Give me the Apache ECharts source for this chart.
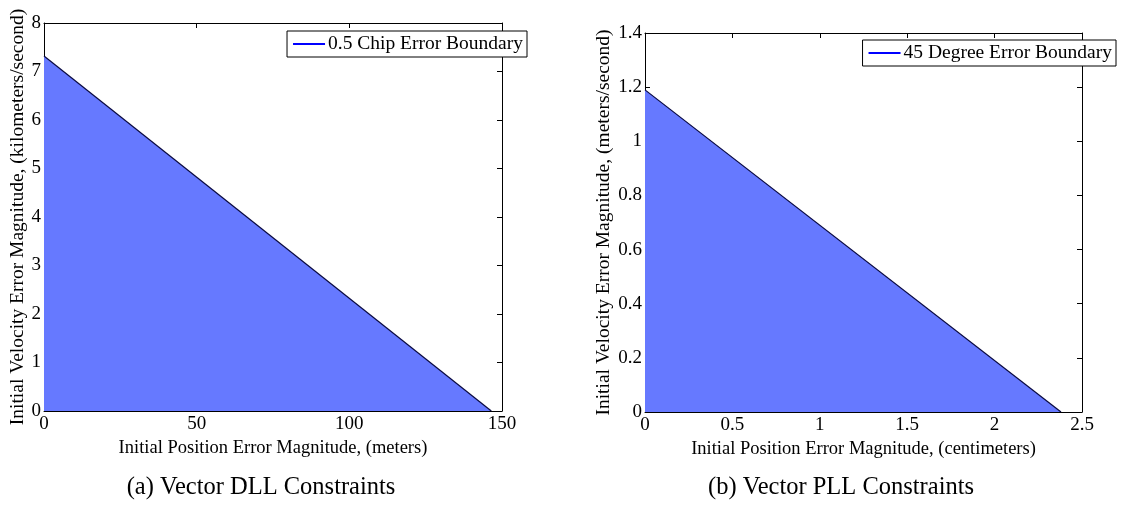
<!DOCTYPE html>
<html><head><meta charset="utf-8">
<script src="https://cdn.jsdelivr.net/npm/echarts@6/dist/echarts.min.js"></script>
<style>html,body{margin:0;padding:0;background:#fff}#c{width:1148px;height:505px}</style>
</head><body><div id="c"></div>
<script>
// Data
const dllPos = [0, 146.5];      // meters
const dllVel = [7.32, 0];       // km/s
const pllPos = [0, 2.38];       // centimeters
const pllVel = [1.19, 0];       // m/s
const dllLegend = '0.5 Chip Error Boundary';
const pllLegend = '45 Degree Error Boundary';
const captions = ['(a) Vector DLL Constraints', '(b) Vector PLL Constraints'];
const xTitles = ['Initial Position Error Magnitude, (meters)', 'Initial Position Error Magnitude, (centimeters)'];
const yTitles = ['Initial Velocity Error Magnitude, (kilometers/second)', 'Initial Velocity Error Magnitude, (meters/second)'];

const FONT = '"Liberation Serif", "DejaVu Serif", serif';
const fillColor = '#6679ff';
const edgeColor = '#0a0a40';

function toPairs(xs, ys){ return xs.map((x,i)=>[x, ys[i]]); }

const tickFont = 19;
function mainX(gi, max, interval, name, gap){
  return {type:'value', gridIndex:gi, min:0, max:max, interval:interval, position:'bottom',
    name:name, nameLocation:'middle', nameGap:gap,
    nameTextStyle:{fontFamily:FONT, fontSize:18.5, color:'#000'},
    axisLine:{show:true, onZero:false, lineStyle:{color:'#000', width:1}},
    axisTick:{show:true, inside:true, length:5, lineStyle:{color:'#000'}},
    axisLabel:{fontFamily:FONT, fontSize:tickFont, color:'#000', margin:4, showMaxLabel:true, showMinLabel:true},
    splitLine:{show:false}};
}
function mirrorX(gi, max, interval){
  return {type:'value', gridIndex:gi, min:0, max:max, interval:interval, position:'top',
    axisLine:{show:true, onZero:false, lineStyle:{color:'#000', width:1}},
    axisTick:{show:true, inside:true, length:5, lineStyle:{color:'#000'}},
    axisLabel:{show:false}, splitLine:{show:false}};
}
function mainY(gi, max, interval, name, gap){
  return {type:'value', gridIndex:gi, min:0, max:max, interval:interval, position:'left',
    name:name, nameLocation:'middle', nameGap:gap,
    nameTextStyle:{fontFamily:FONT, fontSize:19.5, color:'#000'},
    axisLine:{show:true, onZero:false, lineStyle:{color:'#000', width:1}},
    axisTick:{show:true, inside:true, length:5, lineStyle:{color:'#000'}},
    axisLabel:{fontFamily:FONT, fontSize:tickFont, color:'#000', margin:3, showMaxLabel:true, showMinLabel:true},
    splitLine:{show:false}};
}
function mirrorY(gi, max, interval){
  return {type:'value', gridIndex:gi, min:0, max:max, interval:interval, position:'right',
    axisLine:{show:true, onZero:false, lineStyle:{color:'#000', width:1}},
    axisTick:{show:true, inside:true, length:5, lineStyle:{color:'#000'}},
    axisLabel:{show:false}, splitLine:{show:false}};
}

const legendCommon = {
  orient:'vertical', backgroundColor:'#fff', borderColor:'#000', borderWidth:1, borderRadius:0,
  padding:[3,4,3,6], itemWidth:32, itemHeight:2, icon:'rect', itemGap:0,
  textStyle:{fontFamily:FONT, fontSize:19.5, color:'#000', padding:[0,0,0,-2]}
};

const option = {
  animation:false,
  backgroundColor:'#fff',
  grid:[
    {left:44, top:23, width:458, height:388},
    {left:645, top:33, width:437, height:379}
  ],
  xAxis:[ mainX(0,150,50,xTitles[0],17), mirrorX(0,150,50), mainX(1,2.5,0.5,xTitles[1],17), mirrorX(1,2.5,0.5) ],
  yAxis:[ mainY(0,8,1,yTitles[0],16), mirrorY(0,8,1), mainY(1,1.4,0.2,yTitles[1],29), mirrorY(1,1.4,0.2) ],
  legend:[
    Object.assign({}, legendCommon, {data:[dllLegend], right:1148-527, top:31}),
    Object.assign({}, legendCommon, {data:[pllLegend], right:1148-1116, top:40})
  ],
  series:[
    {type:'line', xAxisIndex:0, yAxisIndex:0, data:toPairs(dllPos, dllVel), symbol:'none',
      lineStyle:{color:edgeColor, width:1.2}, areaStyle:{color:fillColor, opacity:1}, itemStyle:{color:edgeColor}},
    {type:'line', xAxisIndex:2, yAxisIndex:2, data:toPairs(pllPos, pllVel), symbol:'none',
      lineStyle:{color:edgeColor, width:1.2}, areaStyle:{color:fillColor, opacity:1}, itemStyle:{color:edgeColor}},
    {type:'line', name:dllLegend, xAxisIndex:0, yAxisIndex:0, data:[], symbol:'none', itemStyle:{color:'#0000ff'}, lineStyle:{color:'#0000ff'}},
    {type:'line', name:pllLegend, xAxisIndex:2, yAxisIndex:2, data:[], symbol:'none', itemStyle:{color:'#0000ff'}, lineStyle:{color:'#0000ff'}}
  ],
  graphic:[
    {type:'text', style:{text:captions[0], fontFamily:FONT, fontSize:24.5, fill:'#000', x:261, y:488, align:'center', verticalAlign:'middle'}},
    {type:'text', style:{text:captions[1], fontFamily:FONT, fontSize:24.5, fill:'#000', x:841, y:488, align:'center', verticalAlign:'middle'}}
  ]
};

const chart = echarts.init(document.getElementById('c'), null, {renderer:'canvas'});
chart.setOption(option);
</script></body></html>
